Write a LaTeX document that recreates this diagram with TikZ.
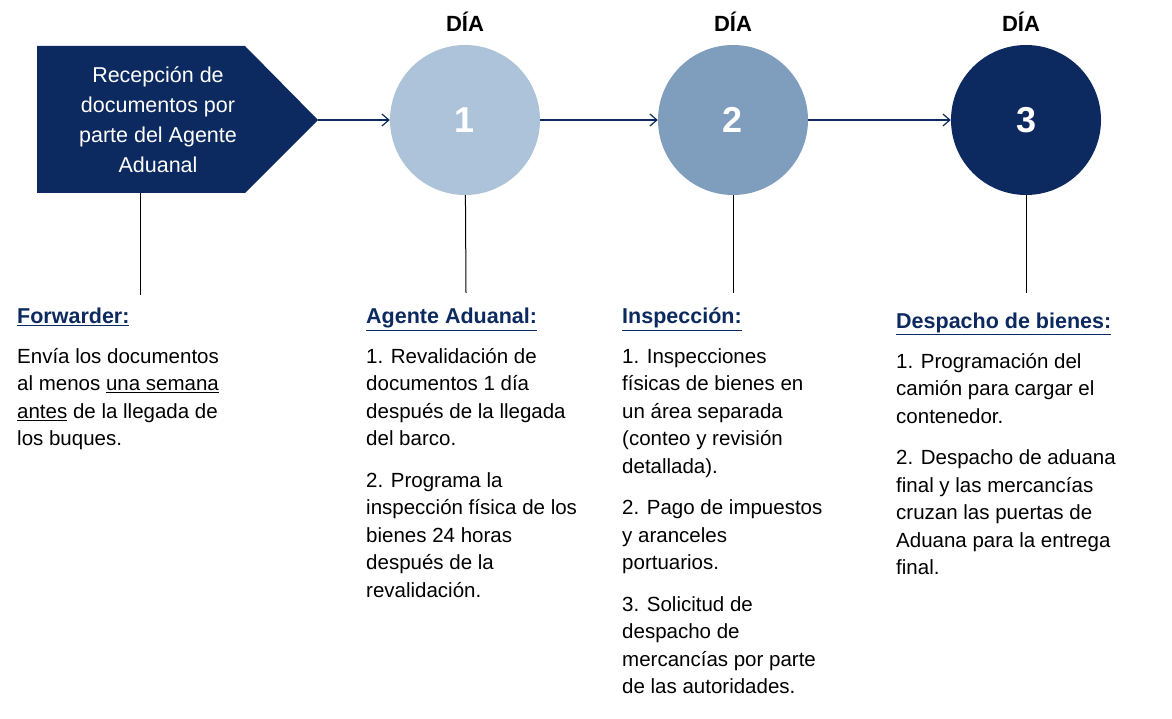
\documentclass[tikz,border=0pt]{standalone}
\usepackage{fontspec}
\setmainfont{Liberation Sans}
\definecolor{navy}{HTML}{0C2A5F}
\definecolor{light}{HTML}{ADC3D9}
\definecolor{mid}{HTML}{7F9DBD}
\usetikzlibrary{arrows.meta}
\tikzset{
  circ/.style={circle,minimum size=150pt,inner sep=0,text=white,font=\fontsize{36}{40}\selectfont\bfseries},
  day/.style={font=\fontsize{22}{24}\selectfont\bfseries,inner sep=0},
  conn/.style={navy,line width=1.2pt,-{Straight Barb[length=7pt,width=12pt]}},
  vline/.style={black,line width=1pt},
  head/.style={anchor=north west,inner sep=0,text=navy,font=\fontsize{21.5}{24}\selectfont\bfseries},
  body/.style={anchor=north west,inner sep=0,align=left,font=\fontsize{20.5}{27.5}\selectfont},
}
\begin{document}
\begin{tikzpicture}[x=1pt,y=-1pt]
\useasboundingbox (0,0) rectangle (1172,719);
\fill[navy] (37,46) -- (245,46) -- (318,120) -- (245,193) -- (37,193) -- cycle;
\coordinate (tip) at (318,120);
\node[text=white,align=center,font=\fontsize{21.5}{30}\selectfont] (rec) at (158,120) {Recepción de\\documentos por\\parte del Agente\\Aduanal};
\node[circ,fill=light] (c1) at (465,120) {1};
\node[circ,fill=mid] (c2) at (733,120) {2};
\node[circ,fill=navy] (c3) at (1026,120) {3};
\node[day] (d1) at (465,22) {DÍA};
\node[day] (d2) at (733,22) {DÍA};
\node[day] (d3) at (1021,22) {DÍA};
\draw[conn] (tip) -- (c1);
\draw[conn] (c1) -- (c2);
\draw[conn] (c2) -- (c3);
\coordinate (p0) at (140,193); \coordinate (e0) at (140,295);
\coordinate (e1) at (466,293); \coordinate (e2) at (733,293); \coordinate (e3) at (1026,293);
\draw[vline] (p0) -- (e0);
\draw[vline] (c1) -- (e1);
\draw[vline] (c2) -- (e2);
\draw[vline] (c3) -- (e3);
\node[head] (h0) at (17,308) {\underline{Forwarder:}};
\node[head] (h1) at (366,308) {\underline{Agente Aduanal:}};
\node[head] (h2) at (622,308) {\underline{Inspección:}};
\node[head] (h3) at (896,313) {\underline{Despacho de bienes:}};
\node[body] (b0) at (17,348) {Envía los documentos\\al menos \underline{una semana}\\\underline{antes} de la llegada de\\los buques.};
\node[body] (b1) at (366,348) {1. Revalidación de\\documentos 1 día\\después de la llegada\\del barco.\\[14pt]2. Programa la\\inspección física de los\\bienes 24 horas\\después de la\\revalidación.};
\node[body] (b2) at (622,348) {1. Inspecciones\\físicas de bienes en\\un área separada\\(conteo y revisión\\detallada).\\[14pt]2. Pago de impuestos\\y aranceles\\portuarios.\\[14pt]3. Solicitud de\\despacho de\\mercancías por parte\\de las autoridades.};
\node[body] (b3) at (896,353) {1. Programación del\\camión para cargar el\\contenedor.\\[14pt]2. Despacho de aduana\\final y las mercancías\\cruzan las puertas de\\Aduana para la entrega\\final.};
\end{tikzpicture}
\end{document}
